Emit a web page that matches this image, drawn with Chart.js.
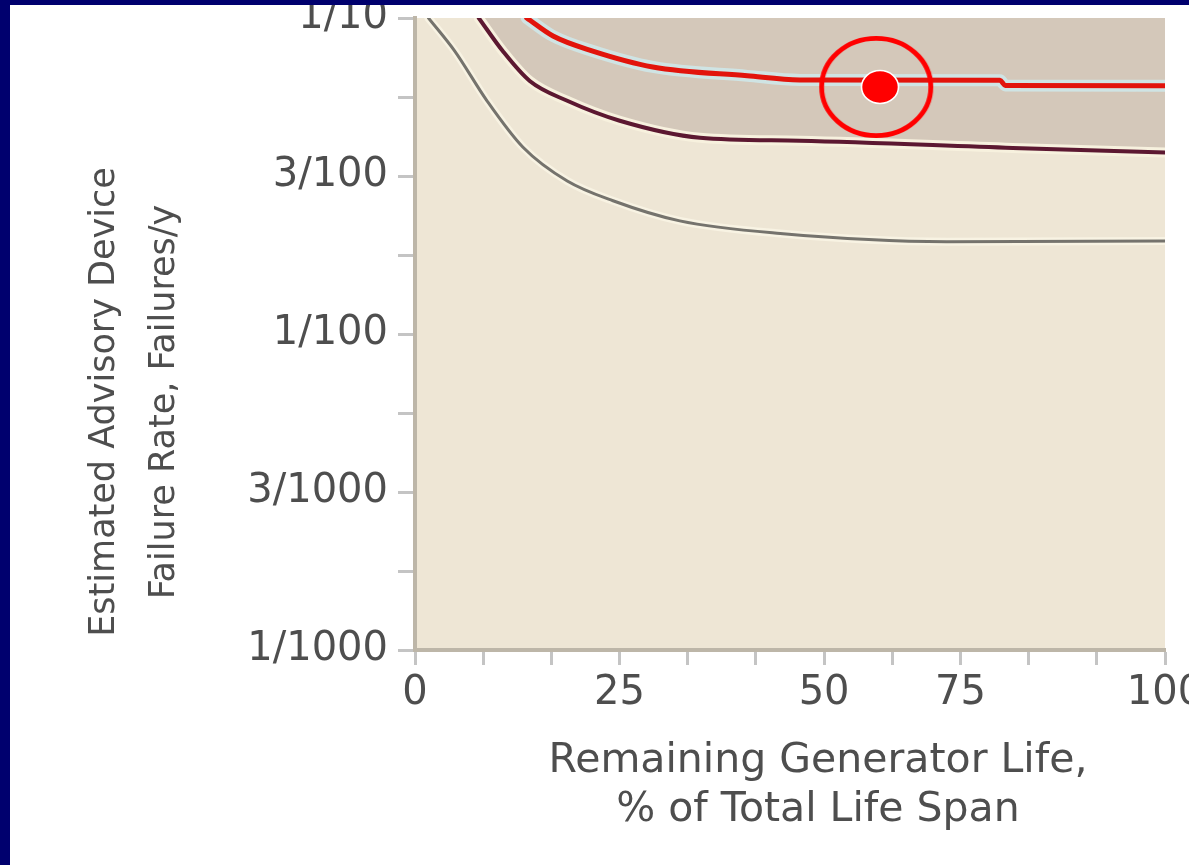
<!DOCTYPE html>
<html>
<head>
<meta charset="utf-8">
<script src="https://cdn.jsdelivr.net/npm/chart.js@4.4.1/dist/chart.umd.min.js"></script>
<style>
  html, body { margin: 0; padding: 0; width: 1189px; height: 865px; overflow: hidden; background: #00006e; }
  #panel { position: absolute; left: 10px; top: 5px; width: 1179px; height: 860px; background: #ffffff; }
  canvas { display: block; }
</style>
</head>
<body>
<div id="panel"><canvas id="chart" width="1179" height="860"></canvas></div>
<script>
// Remaining generator life (x, % of span) against estimated advisory failure rate (y, failures/year)
const lowerCurveX = [1.8, 5.3, 9.6, 14.4, 20.3, 26.4, 35.3, 48.7, 70.9, 100];
const lowerCurveY = [0.1, 0.0786, 0.0547, 0.039, 0.0305, 0.0264, 0.0228, 0.0208, 0.0196, 0.0197];

const middleCurveX = [8.5, 11.7, 15.3, 20.3, 27.3, 38.0, 51.3, 79.7, 100];
const middleCurveY = [0.1, 0.0786, 0.0632, 0.0547, 0.0473, 0.0418, 0.0409, 0.0388, 0.0375];

const upperCurveX = [14.9, 18.4, 23.7, 31.7, 44.3, 51.3, 78.0, 78.7, 100];
const upperCurveY = [0.1, 0.0877, 0.0786, 0.070, 0.0656, 0.0637, 0.0635, 0.0612, 0.061];

const deviceX = [62.0];
const deviceY = [0.0605];
const haloX = [61.5];

const xTickLabels = ['0', '', '', '25', '', '', '50', '', '75', '', '', '100'];
const yTickLabels = ['1/1000', '', '3/1000', '', '1/100', '', '3/100', '', '1/10'];
const xTitleLines = ['Remaining Generator Life,', '% of Total Life Span'];
const yTitleLines = ['Estimated Advisory Device', 'Failure Rate, Failures/y'];

const points = (xs, ys) => xs.map((x, i) => ({ x: x, y: ys[i] }));

const textColor = '#4e4e4e';
const axisColor = '#bdb6a8';
const tickMarkColor = '#c4c4c4';

function markerImage(w, h, paint) {
  const c = document.createElement('canvas');
  c.width = w; c.height = h;
  paint(c.getContext('2d'), w, h);
  return c;
}
const ringMarker = markerImage(118, 106, (g, w, h) => {
  g.strokeStyle = '#ff0000';
  g.lineWidth = 4.8;
  g.beginPath();
  g.ellipse(w / 2, h / 2, 54.6, 48.6, 0, 0, Math.PI * 2);
  g.stroke();
});
const dotMarker = markerImage(42, 38, (g, w, h) => {
  g.fillStyle = '#ff0000';
  g.strokeStyle = '#ffffff';
  g.lineWidth = 1.6;
  g.beginPath();
  g.ellipse(w / 2, h / 2, 18.5, 16.5, 0, 0, Math.PI * 2);
  g.fill();
  g.stroke();
});

const plotBackground = {
  id: 'plotBackground',
  beforeDraw(chart) {
    const { ctx, chartArea: a } = chart;
    ctx.save();
    ctx.fillStyle = '#eee6d5';
    ctx.fillRect(a.left, a.top, a.right - a.left, a.bottom - a.top);
    ctx.restore();
  }
};

const axisTitles = {
  id: 'axisTitles',
  afterDraw(chart) {
    const { ctx } = chart;
    ctx.save();
    ctx.fillStyle = textColor;
    ctx.textAlign = 'center';
    ctx.textBaseline = 'alphabetic';
    ctx.font = '41px "DejaVu Sans"';
    xTitleLines.forEach((t, i) => ctx.fillText(t, 808, 767 + i * 49));
    ctx.translate(95, 397);
    ctx.rotate(-Math.PI / 2);
    ctx.textBaseline = 'middle';
    ctx.font = '35px "DejaVu Sans"';
    yTitleLines.forEach((t, i) => ctx.fillText(t, 0, i * 60));
    ctx.restore();
  }
};

const curve = (data, color, width, extra) => Object.assign({
  data: data,
  borderColor: color,
  borderWidth: width,
  pointRadius: 0,
  fill: false,
  cubicInterpolationMode: 'monotone',
  borderCapStyle: 'round',
  borderJoinStyle: 'round'
}, extra || {});

new Chart(document.getElementById('chart'), {
  type: 'line',
  data: {
    datasets: [
      { data: points(deviceX, deviceY), showLine: false, pointStyle: dotMarker, pointRadius: 10 },
      { data: points(haloX, deviceY), showLine: false, pointStyle: ringMarker, pointRadius: 10 },
      curve(points(upperCurveX, upperCurveY), '#e2140c', 5),
      curve(points(upperCurveX, upperCurveY), '#cfe4e4', 12),
      curve(points(middleCurveX, middleCurveY), '#5c1831', 4, { fill: 'end', backgroundColor: '#d4c8ba' }),
      curve(points(middleCurveX, middleCurveY), '#f7f1de', 10),
      curve(points(lowerCurveX, lowerCurveY), '#75736d', 3),
      curve(points(lowerCurveX, lowerCurveY), '#f8f3e3', 8)
    ]
  },
  options: {
    responsive: false,
    animation: false,
    events: [],
    layout: { padding: { left: 0, top: 13, right: 24, bottom: 0 } },
    plugins: {
      legend: { display: false },
      tooltip: { enabled: false },
      filler: { drawTime: 'beforeDatasetsDraw' }
    },
    scales: {
      x: {
        type: 'linear',
        min: 0,
        max: 100,
        afterBuildTicks(s) {
          s.ticks = xTickLabels.map((_, k) => ({ value: k * 100 / (xTickLabels.length - 1) }));
        },
        afterFit(s) {
          s.height = 215;
          s.paddingLeft = 0; s.paddingRight = 0;
        },
        ticks: {
          autoSkip: false,
          maxRotation: 0,
          padding: 5,
          color: textColor,
          font: { family: '"DejaVu Sans"', size: 40 },
          callback: (v, i) => xTickLabels[i]
        },
        grid: { drawOnChartArea: false, drawTicks: true, tickLength: 15, tickColor: tickMarkColor, tickWidth: 3 },
        border: { display: true, color: axisColor, width: 4 }
      },
      y: {
        type: 'logarithmic',
        min: 0.001,
        max: 0.1,
        afterBuildTicks(s) {
          s.ticks = yTickLabels.map((_, k) => ({ value: Math.pow(10, -3 + k / 4) }));
        },
        afterFit(s) {
          s.width = 405;
          s.paddingTop = 0; s.paddingBottom = 0;
        },
        ticks: {
          autoSkip: false,
          padding: 10,
          color: textColor,
          font: { family: '"DejaVu Sans"', size: 40 },
          callback: (v, i) => yTickLabels[i]
        },
        grid: { drawOnChartArea: false, drawTicks: true, tickLength: 17, tickColor: tickMarkColor, tickWidth: 3 },
        border: { display: true, color: axisColor, width: 4 }
      }
    }
  },
  plugins: [plotBackground, axisTitles]
});
</script>
</body>
</html>
